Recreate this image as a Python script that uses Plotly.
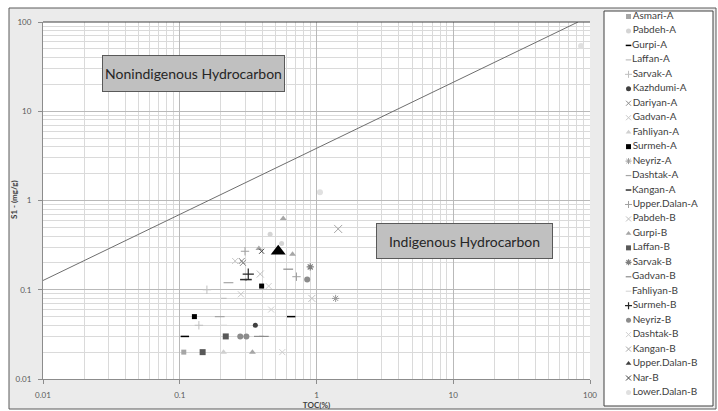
import plotly.graph_objects as go

# ---------------- data ----------------
legend_names = ["Asmari-A", "Pabdeh-A", "Gurpi-A", "Laffan-A", "Sarvak-A", "Kazhdumi-A",
                "Dariyan-A", "Gadvan-A", "Fahliyan-A", "Surmeh-A", "Neyriz-A", "Dashtak-A",
                "Kangan-A", "Upper.Dalan-A", "Pabdeh-B", "Gurpi-B", "Laffan-B", "Sarvak-B",
                "Gadvan-B", "Fahliyan-B", "Surmeh-B", "Neyriz-B", "Dashtak-B", "Kangan-B",
                "Upper.Dalan-B", "Nar-B", "Lower.Dalan-B"]

asmari_a_toc = [0.107];               asmari_a_s1 = [0.02]
pabdeh_a_toc = [0.458, 0.556];        pabdeh_a_s1 = [0.42, 0.33]
gurpi_a_toc = [0.109, 0.653];         gurpi_a_s1 = [0.03, 0.05]
laffan_a_toc = [0.21];                laffan_a_s1 = [0.08]
sarvak_a_toc = [0.138, 0.158];        sarvak_a_s1 = [0.04, 0.1]
kazhdumi_a_toc = [0.357];             kazhdumi_a_s1 = [0.04]
dariyan_a_toc = [0.284, 0.29];        dariyan_a_s1 = [0.21, 0.2]
gadvan_a_toc = [0.254, 0.28];         gadvan_a_s1 = [0.21, 0.089]
fahliyan_a_toc = [0.209];             fahliyan_a_s1 = [0.02]
surmeh_a_toc = [0.128, 0.397];        surmeh_a_s1 = [0.05, 0.11]
neyriz_a_toc = [1.38];                neyriz_a_s1 = [0.08]
dashtak_a_toc = [0.227, 0.196];       dashtak_a_s1 = [0.12, 0.05]
kangan_a_toc = [0.293, 0.317];        kangan_a_s1 = [0.13, 0.13]
upper_dalan_a_toc = [0.3, 0.714];     upper_dalan_a_s1 = [0.27, 0.14]
pabdeh_b_toc = [0.388, 0.925];        pabdeh_b_s1 = [0.15, 0.08]
gurpi_b_toc = [0.34, 0.379, 0.668, 0.571]; gurpi_b_s1 = [0.02, 0.29, 0.25, 0.63]
laffan_b_toc = [0.147, 0.217];        laffan_b_s1 = [0.02, 0.03]
sarvak_b_toc = [0.9];                 sarvak_b_s1 = [0.18]
gadvan_b_toc = [0.621, 0.412, 0.379]; gadvan_b_s1 = [0.17, 0.03, 0.03]
fahliyan_b_toc = [0.209];             fahliyan_b_s1 = [0.04]
surmeh_b_toc = [0.317];               surmeh_b_s1 = [0.15]
neyriz_b_toc = [0.277, 0.307, 0.855]; neyriz_b_s1 = [0.03, 0.03, 0.13]
dashtak_b_toc = [0.447, 0.466, 0.562]; dashtak_b_s1 = [0.11, 0.06, 0.02]
kangan_b_toc = [1.44];                kangan_b_s1 = [0.48]
upper_dalan_b_toc = [0.525];          upper_dalan_b_s1 = [0.27]
nar_b_toc = [0.397];                  nar_b_s1 = [0.27]
lower_dalan_b_toc = [1.06, 86];       lower_dalan_b_s1 = [1.24, 54]

divider_toc = [0.01, 81.7]
divider_s1 = [0.127, 100]

tick_values = [0.01, 0.1, 1, 10, 100]
tick_labels = ["0.01", "0.1", "1", "10", "100"]

series_data = [
    (asmari_a_toc, asmari_a_s1), (pabdeh_a_toc, pabdeh_a_s1), (gurpi_a_toc, gurpi_a_s1),
    (laffan_a_toc, laffan_a_s1), (sarvak_a_toc, sarvak_a_s1), (kazhdumi_a_toc, kazhdumi_a_s1),
    (dariyan_a_toc, dariyan_a_s1), (gadvan_a_toc, gadvan_a_s1), (fahliyan_a_toc, fahliyan_a_s1),
    (surmeh_a_toc, surmeh_a_s1), (neyriz_a_toc, neyriz_a_s1), (dashtak_a_toc, dashtak_a_s1),
    (kangan_a_toc, kangan_a_s1), (upper_dalan_a_toc, upper_dalan_a_s1), (pabdeh_b_toc, pabdeh_b_s1),
    (gurpi_b_toc, gurpi_b_s1), (laffan_b_toc, laffan_b_s1), (sarvak_b_toc, sarvak_b_s1),
    (gadvan_b_toc, gadvan_b_s1), (fahliyan_b_toc, fahliyan_b_s1), (surmeh_b_toc, surmeh_b_s1),
    (neyriz_b_toc, neyriz_b_s1), (dashtak_b_toc, dashtak_b_s1), (kangan_b_toc, kangan_b_s1),
    (upper_dalan_b_toc, upper_dalan_b_s1), (nar_b_toc, nar_b_s1), (lower_dalan_b_toc, lower_dalan_b_s1),
]

# ---------------- styles ----------------
# symbol, color, size on plot, line width (for line-type symbols)
styles = {
    "Asmari-A": ("square", "#a6a6a6", 5, 0),
    "Pabdeh-A": ("circle", "#d4d4d4", 5, 0),
    "Gurpi-A": ("line-ew", "#000000", 6, 1.5),
    "Laffan-A": ("line-ew", "#bfbfbf", 4, 1.2),
    "Sarvak-A": ("cross-thin", "#bfbfbf", 6, 1),
    "Kazhdumi-A": ("circle", "#404040", 5, 0),
    "Dariyan-A": ("x-thin", "#8c8c8c", 6, 1),
    "Gadvan-A": ("x-thin", "#c8c8c8", 6, 1),
    "Fahliyan-A": ("triangle-up", "#d0d0d0", 6, 0),
    "Surmeh-A": ("square", "#000000", 5, 0),
    "Neyriz-A": ("asterisk", "#9a9a9a", 6, 1),
    "Dashtak-A": ("line-ew", "#a6a6a6", 7, 1.2),
    "Kangan-A": ("line-ew", "#303030", 5, 1.5),
    "Upper.Dalan-A": ("cross-thin", "#a0a0a0", 6, 1),
    "Pabdeh-B": ("x-thin", "#bfbfbf", 7, 1),
    "Gurpi-B": ("triangle-up", "#a6a6a6", 6, 0),
    "Laffan-B": ("square", "#595959", 6, 0),
    "Sarvak-B": ("asterisk", "#7f7f7f", 6, 1.2),
    "Gadvan-B": ("line-ew", "#8c8c8c", 7, 1.2),
    "Fahliyan-B": ("line-ew", "#d9d9d9", 5, 1.2),
    "Surmeh-B": ("cross-thin", "#262626", 8, 1.2),
    "Neyriz-B": ("circle", "#8c8c8c", 6, 0),
    "Dashtak-B": ("x-thin", "#cfcfcf", 6, 1),
    "Kangan-B": ("x-thin", "#a6a6a6", 8, 1),
    "Upper.Dalan-B": ("triangle-up", "#000000", 13, 0),
    "Nar-B": ("x-thin", "#404040", 5, 1),
    "Lower.Dalan-B": ("circle", "#e0e0e0", 6, 0),
}
legend_colors = {"Upper.Dalan-B": "#404040"}

W, H = 718, 411
PL, PR, PT, PB = 43, 590, 22, 379          # plot area pixels
LL, LR, LT, LB = 604, 713, 11, 406         # legend box pixels
FONT = "Lato, 'Open Sans', sans-serif"


def marker_for(name, size=None, color=None):
    sym, col, sz, lw = styles[name]
    col = color or col
    sz = size or sz
    if sym in ("line-ew", "cross-thin", "x-thin", "asterisk"):
        return dict(symbol=sym, size=sz, color=col, line=dict(color=col, width=lw))
    return dict(symbol=sym, size=sz, color=col, line=dict(width=0))


fig = go.Figure()

# divider line
fig.add_trace(go.Scatter(x=divider_toc, y=divider_s1, mode="lines",
                         line=dict(color="#6e6e6e", width=1), showlegend=False,
                         hoverinfo="skip", xaxis="x", yaxis="y"))

for name, (tx, sy) in zip(legend_names, series_data):
    fig.add_trace(go.Scatter(x=tx, y=sy, mode="markers", name=name,
                             marker=marker_for(name), showlegend=False,
                             xaxis="x", yaxis="y"))

# custom legend drawn in its own small subplot
for i, name in enumerate(legend_names):
    sym, col, sz, lw = styles[name]
    lsize = 4 if sym == "line-ew" else 5
    fig.add_trace(go.Scatter(
        x=[0.225], y=[i], mode="markers+text", text=[name], textposition="middle right",
        textfont=dict(family=FONT, size=10, color="#404040"),
        marker=marker_for(name, size=lsize, color=legend_colors.get(name)),
        showlegend=False, hoverinfo="skip", xaxis="x2", yaxis="y2", cliponaxis=False))

step = 14.46
first = 16.5
y2_top = (LT - first) / step
y2_bot = (LB - first) / step

grid_major = "#b9b9b9"
grid_minor = "#dadada"

axis_common = dict(
    type="log", range=[-2, 2], tickmode="array", tickvals=tick_values, ticktext=tick_labels,
    showgrid=True, gridcolor=grid_major, gridwidth=1.3,
    minor=dict(dtick="D1", showgrid=True, gridcolor=grid_minor, gridwidth=1, ticks=""),
    showline=True, linecolor="#8c8c8c", linewidth=1, ticks="outside", ticklen=4,
    tickcolor="#8c8c8c", tickfont=dict(family=FONT, size=8, color="#595959"),
    zeroline=False, fixedrange=True, automargin=False,
)

fig.update_layout(
    width=W, height=H, margin=dict(l=0, r=0, t=0, b=0, pad=0, autoexpand=False),
    paper_bgcolor="white", plot_bgcolor="white",
    showlegend=False,
    xaxis=dict(domain=[PL / W, PR / W], anchor="y", ticklabelstandoff=4,
               title=dict(text="<b>TOC(%)</b>", font=dict(family=FONT, size=8, color="#404040"),
                          standoff=2),
               **axis_common),
    yaxis=dict(domain=[1 - PB / H, 1 - PT / H], anchor="x", ticklabelstandoff=5,
               **axis_common),
    xaxis2=dict(domain=[LL / W, LR / W], range=[0, 1], visible=False, anchor="y2", fixedrange=True),
    yaxis2=dict(domain=[1 - LB / H, 1 - LT / H], range=[y2_bot, y2_top], visible=False,
                anchor="x2", fixedrange=True),
    shapes=[
        # chart frame
        dict(type="rect", xref="paper", yref="paper", x0=9 / W, x1=716 / W, y0=1 - 409 / H, y1=1 - 8 / H,
             fillcolor="#ebebeb", line=dict(color="#5a5a5a", width=1), layer="below"),
        # plot area
        dict(type="rect", xref="paper", yref="paper", x0=PL / W, x1=PR / W, y0=1 - PB / H, y1=1 - PT / H,
             fillcolor="white", line=dict(width=0), layer="below"),
        # legend box
        dict(type="rect", xref="paper", yref="paper", x0=LL / W, x1=LR / W, y0=1 - LB / H, y1=1 - LT / H,
             fillcolor="white", line=dict(color="#404040", width=1), layer="below"),
        # dark top edge of plot area
        dict(type="line", xref="paper", yref="paper", x0=PL / W, x1=PR / W, y0=1 - PT / H, y1=1 - PT / H,
             line=dict(color="#404040", width=1), layer="above"),
    ],
    annotations=[
        dict(text="<b>S1 - (mg/g)</b>", xref="paper", yref="paper", x=14 / W, y=1 - 200 / H,
             xanchor="center", yanchor="middle", textangle=-90, showarrow=False,
             font=dict(family=FONT, size=8, color="#404040")),
        dict(text="Nonindigenous Hydrocarbon", xref="paper", yref="paper",
             x=193.5 / W, y=1 - 73.5 / H, xanchor="center", yanchor="middle", showarrow=False,
             width=181, height=35, bgcolor="#c0c0c0", bordercolor="#595959", borderwidth=1, borderpad=0,
             font=dict(family=FONT, size=14, color="#262626")),
        dict(text="Indigenous Hydrocarbon", xref="paper", yref="paper",
             x=464.5 / W, y=1 - 241 / H, xanchor="center", yanchor="middle", showarrow=False,
             width=175, height=34, bgcolor="#c0c0c0", bordercolor="#595959", borderwidth=1, borderpad=0,
             font=dict(family=FONT, size=14, color="#262626")),
    ],
)

fig.write_html("out.html")
